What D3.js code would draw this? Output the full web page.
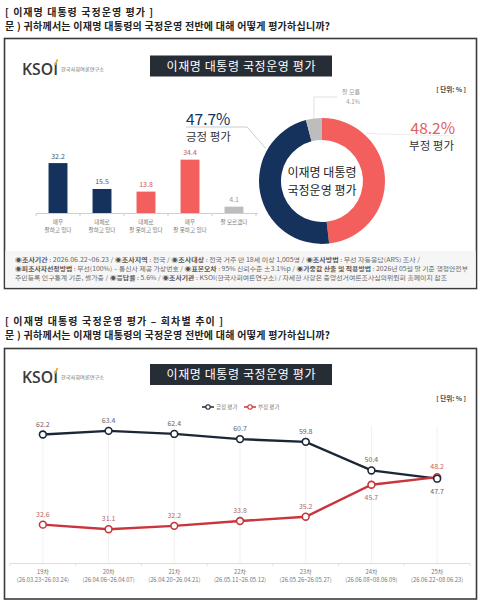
<!DOCTYPE html>
<html>
<head>
<meta charset="utf-8">
<script src="https://cdn.jsdelivr.net/npm/d3@7"></script>
<style>
  html,body{margin:0;padding:0;background:#fff;}
  svg{display:block;font-family:"Noto Sans CJK KR","Noto Sans",sans-serif;}
</style>
</head>
<body>
<svg id="chart" width="480" height="602"></svg>
<script>
// 막대 차트 데이터
var barCats = ["매우|잘하고 있다", "대체로|잘하고 있다", "대체로|잘 못하고 있다", "매우|잘 못하고 있다", "잘 모르겠다"];
var barValues = [32.2, 15.5, 13.8, 34.4, 4.1];
// 도넛 데이터 (위에서 시계방향)
var donutCats = ["부정 평가", "긍정 평가", "잘 모름"];
var donutValues = [48.2, 47.7, 4.1];
// 회차별 추이
var waves = ["19차", "20차", "21차", "22차", "23차", "24차", "25차"];
var waveDates = ["(26.03.23~26.03.24)", "(26.04.06~26.04.07)", "(26.04.20~26.04.21)", "(26.05.11~26.05.12)", "(26.05.26~26.05.27)", "(26.06.08~08.06.09)", "(26.06.22~08.06.23)"];
var posValues = [62.2, 63.4, 62.4, 60.7, 59.8, 50.4, 47.7];
var negValues = [32.6, 31.1, 32.2, 33.8, 35.2, 45.7, 48.2];
var seriesNames = ["긍정 평가", "부정 평가"];
// 조사 개요
var notes = [
  [["◉조사기간", " : 2026.06.22~06.23 / "], ["◉조사지역", " : 전국 / "], ["◉조사대상", " : 전국 거주 만 18세 이상 1,005명 / "], ["◉조사방법", " : 무선 자동응답(ARS) 조사 /"]],
  [["◉피조사자선정방법", " : 무선(100%) – 통신사 제공 가상번호 / "], ["◉표본오차", " : 95% 신뢰수준 ±3.1%p / "], ["◉가중값 산출 및 적용방법", " : 2026년 05월 말 기준 행정안전부"]],
  [["", "주민등록 인구통계 기준, 셀가중 / "], ["◉응답률", " : 5.6% / "], ["◉조사기관", " : KSOI(한국사회여론연구소) / 자세한 사항은 중앙선거여론조사심의위원회 홈페이지 참조"]]
];

var NAVY = "#15325c", RED = "#f25f5c", GRAY = "#bdbdbd";
var LNAVY = "#1b2636", LRED = "#c9353a";

var svg = d3.select("#chart");

// 섹션 제목 + 질문
function header(y, title, tLen){
  svg.append("text").attr("x", 5).attr("y", y).attr("font-size", 10).attr("font-weight", 700)
     .attr("fill", "#222").attr("textLength", tLen).attr("lengthAdjust", "spacing").text(title);
  svg.append("text").attr("x", 5).attr("y", y + 14.5).attr("font-size", 10).attr("font-weight", 700)
     .attr("fill", "#222").attr("textLength", 325).attr("lengthAdjust", "spacing")
     .text("문 )  귀하께서는 이재명 대통령의 국정운영 전반에 대해 어떻게 평가하십니까?");
}
// 로고, 제목 박스, 단위
function panelTop(y0){
  var lg = svg.append("g").attr("transform", "translate(22," + (y0 + 24) + ")");
  lg.append("text").attr("x", 0).attr("y", 12).attr("font-family", "'Open Sans',sans-serif")
    .attr("font-size", 16).attr("font-weight", 600).attr("fill", "#3a3a3a")
    .attr("textLength", 36).attr("lengthAdjust", "spacingAndGlyphs").text("KSOI");
  lg.append("path").attr("d", "M33,2.5 L35.5,-3").attr("stroke", "#e0a82e").attr("stroke-width", 1.8);
  lg.append("text").attr("x", 39).attr("y", 8).attr("font-size", 4.6).attr("fill", "#666")
    .attr("textLength", 43).attr("lengthAdjust", "spacingAndGlyphs").text("한국사회여론연구소");
  svg.append("rect").attr("x", 150).attr("y", y0 + 17).attr("width", 182).attr("height", 21).attr("fill", "#262d34");
  svg.append("text").attr("x", 241).attr("y", y0 + 32).attr("text-anchor", "middle").attr("font-size", 12)
    .attr("fill", "#fff").attr("textLength", 149).attr("lengthAdjust", "spacing").text("이재명 대통령 국정운영 평가");
}
function unit(y){
  svg.append("text").attr("x", 466).attr("y", y).attr("text-anchor", "end").attr("font-size", 6.5)
    .attr("font-weight", 700).attr("fill", "#444").text("[ 단위: % ]");
}

/* ================= 1. 국정운영 평가 ================= */
header(15.5, "[ 이재명 대통령 국정운영 평가 ]", 148);
svg.append("rect").attr("x", 4.5).attr("y", 38.5).attr("width", 472).attr("height", 250)
   .attr("fill", "#fff").attr("stroke", "#3b3b3b").attr("stroke-width", 1.6);
panelTop(38.5);
unit(92);

// 막대
var bx = d3.scaleBand().domain(barCats).range([36, 256]).paddingInner(0.57).paddingOuter(0.285);
var by = d3.scaleLinear().domain([0, 40]).range([213, 151]);
var barFill = [NAVY, NAVY, RED, RED, GRAY];
var labFill = ["#555", "#555", "#d9534f", "#d9534f", "#999"];

svg.append("line").attr("x1", 36).attr("x2", 258).attr("y1", 213.5).attr("y2", 213.5).attr("stroke", "#cfcfcf");
svg.selectAll(".btick").data(d3.range(6)).enter().append("line")
   .attr("x1", function(i){return 36 + i * bx.step();}).attr("x2", function(i){return 36 + i * bx.step();})
   .attr("y1", 213.5).attr("y2", 216).attr("stroke", "#cfcfcf");
svg.selectAll(".bar").data(barValues).enter().append("rect")
   .attr("x", function(d, i){return bx(barCats[i]);})
   .attr("y", function(d){return by(d);})
   .attr("width", bx.bandwidth())
   .attr("height", function(d){return by(0) - by(d);})
   .attr("fill", function(d, i){return barFill[i];});
svg.selectAll(".bval").data(barValues).enter().append("text")
   .attr("x", function(d, i){return bx(barCats[i]) + bx.bandwidth() / 2;})
   .attr("y", function(d){return by(d) - 4.5;})
   .attr("text-anchor", "middle").attr("font-size", 7).attr("fill", function(d, i){return labFill[i];})
   .text(function(d){return d.toFixed(1);});
svg.selectAll(".blab").data(barCats).enter().append("text")
   .attr("text-anchor", "middle").attr("font-size", 5.6).attr("fill", "#777")
   .each(function(c){
     var t = d3.select(this), cx = bx(c) + bx.bandwidth() / 2, parts = c.split("|");
     parts.forEach(function(p, k){
       t.append("tspan").attr("x", cx).attr("y", 224 + k * 7.5).text(p);
     });
   });

// 도넛
var dc = {x: 322, y: 181}, rOut = 63, rIn = 41;
var pie = d3.pie().sort(null).value(function(d){return d;});
var arc = d3.arc().innerRadius(rIn).outerRadius(rOut);
var dg = svg.append("g").attr("transform", "translate(" + dc.x + "," + dc.y + ")");
dg.selectAll("path").data(pie(donutValues)).enter().append("path")
  .attr("d", arc).attr("fill", function(d, i){return [RED, NAVY, GRAY][i];});
dg.append("text").attr("y", -4).attr("text-anchor", "middle").attr("font-size", 12).attr("fill", "#222").text("이재명 대통령");
dg.append("text").attr("y", 14).attr("text-anchor", "middle").attr("font-size", 12).attr("fill", "#222").text("국정운영 평가");

function onRim(deg, r){
  var a = deg * Math.PI / 180;
  return [dc.x + r * Math.sin(a), dc.y - r * Math.cos(a)];
}
// 긍정 라벨
var pN = onRim(-60, rOut + 2);
svg.append("polyline").attr("points", [pN, [247, 127], [186, 127]].join(" "))
   .attr("fill", "none").attr("stroke", "#aaa").attr("stroke-width", 0.6);
svg.append("text").attr("x", 186).attr("y", 125).attr("font-size", 15.5).attr("fill", NAVY).text(donutValues[1].toFixed(1) + "%");
svg.append("text").attr("x", 186).attr("y", 141).attr("font-size", 11.5).attr("fill", "#333").text(donutCats[1]);
// 부정 라벨
var pR = onRim(43, rOut + 2);
svg.append("polyline").attr("points", [pR, [455, 136]].join(" "))
   .attr("fill", "none").attr("stroke", "#ddd").attr("stroke-width", 0.6);
svg.append("text").attr("x", 455).attr("y", 134).attr("text-anchor", "end").attr("font-size", 15.5).attr("fill", "#e06060").text(donutValues[0].toFixed(1) + "%");
svg.append("text").attr("x", 454).attr("y", 150).attr("text-anchor", "end").attr("font-size", 11.5).attr("fill", "#333").text(donutCats[0]);
// 잘 모름 라벨
var gA = pie(donutValues)[2], pG = onRim((gA.startAngle + gA.endAngle) / 2 * 180 / Math.PI - 360, rOut);
svg.append("polyline").attr("points", [pG, [pG[0], 97], [337, 97]].join(" "))
   .attr("fill", "none").attr("stroke", "#ccc").attr("stroke-width", 0.6);
svg.append("text").attr("x", 360).attr("y", 94).attr("text-anchor", "end").attr("font-size", 6).attr("fill", "#999").text("잘 모름");
svg.append("text").attr("x", 360).attr("y", 104).attr("text-anchor", "end").attr("font-size", 6).attr("fill", "#999").text(donutValues[2].toFixed(1) + "%");

// 조사 개요
svg.append("rect").attr("x", 5.3).attr("y", 251).attr("width", 470.4).attr("height", 36.5).attr("fill", "#f6f6f6");
var nLen = [405, 453, 432];
notes.forEach(function(line, k){
  var t = svg.append("text").attr("x", 15).attr("y", 262 + k * 9).attr("font-size", 5.8).attr("fill", "#666")
             .attr("textLength", nLen[k]).attr("lengthAdjust", "spacingAndGlyphs");
  line.forEach(function(seg){
    if(seg[0]) t.append("tspan").attr("font-weight", 700).attr("fill", "#555").text(seg[0]);
    t.append("tspan").text(seg[1]);
  });
});

/* ================= 2. 회차별 추이 ================= */
header(324.5, "[ 이재명 대통령 국정운영 평가 – 회차별 추이 ]", 218);
svg.append("rect").attr("x", 4.5).attr("y", 348.5).attr("width", 472).attr("height", 250.5)
   .attr("fill", "#fff").attr("stroke", "#3b3b3b").attr("stroke-width", 1.6);
panelTop(347);
unit(401);

var x = d3.scaleBand().domain(waves).range([10, 470]);
var y = d3.scaleLinear().domain([20, 65]).range([563, 426]);
var cx = function(i){return x(waves[i]) + x.bandwidth() / 2;};

// 세로 보조선 + x축
svg.selectAll(".vg").data(waves).enter().append("line")
   .attr("x1", function(d, i){return cx(i);}).attr("x2", function(d, i){return cx(i);})
   .attr("y1", y(65)).attr("y2", 563).attr("stroke", "#f1f1f1");
svg.append("line").attr("x1", 10).attr("x2", 470).attr("y1", 563.5).attr("y2", 563.5).attr("stroke", "#ddd");
svg.selectAll(".xt").data(d3.range(8)).enter().append("line")
   .attr("x1", function(i){return 10 + i * x.step();}).attr("x2", function(i){return 10 + i * x.step();})
   .attr("y1", 563.5).attr("y2", 566).attr("stroke", "#ddd");
svg.selectAll(".xl").data(waves).enter().append("text")
   .attr("text-anchor", "middle").attr("font-size", 5.8).attr("fill", "#777")
   .each(function(w, i){
     var t = d3.select(this);
     t.append("tspan").attr("x", cx(i)).attr("y", 574).text(w);
     t.append("tspan").attr("x", cx(i)).attr("y", 581.5).text(waveDates[i]);
   });

var line = d3.line().x(function(d, i){return cx(i);}).y(function(d){return y(d);});
var series = [
  {name: seriesNames[0], vals: posValues, color: LNAVY, lab: "#666", below: [false, false, false, false, false, false, true]},
  {name: seriesNames[1], vals: negValues, color: LRED, lab: "#b46a6a", below: [false, false, false, false, false, true, false]}
];
series.forEach(function(s){
  svg.append("path").attr("d", line(s.vals)).attr("fill", "none").attr("stroke", s.color).attr("stroke-width", 2.4);
});
series.slice().reverse().forEach(function(s){
  svg.selectAll(null).data(s.vals).enter().append("circle")
     .attr("cx", function(d, i){return cx(i);}).attr("cy", function(d){return y(d);}).attr("r", 3.4)
     .attr("fill", "#fff").attr("stroke", s.color).attr("stroke-width", 1.6);
  svg.selectAll(null).data(s.vals).enter().append("text")
     .attr("x", function(d, i){return cx(i);})
     .attr("y", function(d, i){return s.below[i] ? y(d) + 15 : y(d) - 8;})
     .attr("text-anchor", "middle").attr("font-size", 7).attr("fill", s.lab)
     .text(function(d){return d.toFixed(1);});
});

// 범례
var lgd = svg.selectAll(".lgd").data(series).enter().append("g")
   .attr("transform", function(d, i){return "translate(" + (202 + i * 42) + ",407)";});
lgd.append("line").attr("x1", 0).attr("x2", 12).attr("stroke", function(d){return d.color;}).attr("stroke-width", 1.5);
lgd.append("circle").attr("cx", 6).attr("r", 2.2).attr("fill", "#fff").attr("stroke", function(d){return d.color;}).attr("stroke-width", 1.1);
lgd.append("text").attr("x", 14).attr("y", 2).attr("font-size", 5.5).attr("fill", "#777").text(function(d){return d.name;});
</script>
</body>
</html>
